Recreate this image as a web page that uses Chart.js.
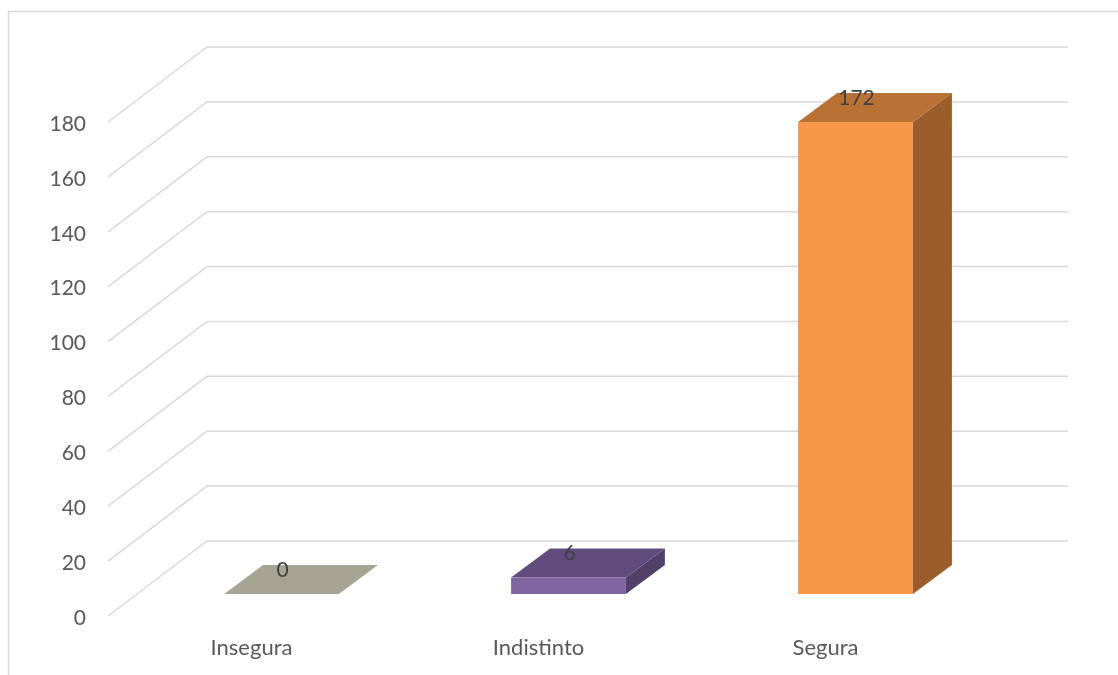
<!DOCTYPE html>
<html>
<head>
<meta charset="utf-8">
<script src="https://cdn.jsdelivr.net/npm/chart.js@4.4.0/dist/chart.umd.min.js"></script>
<style>
  html, body { margin: 0; padding: 0; background: #fff; }
  #wrap { width: 1118px; height: 675px; position: relative; }
</style>
</head>
<body>
<div id="wrap"><canvas id="chart"></canvas></div>
<script>
// Chart data
const categories = ['Insegura', 'Indistinto', 'Segura'];
const values = [0, 6, 172];
const yTicks = [0, 20, 40, 60, 80, 100, 120, 140, 160, 180];

// Face colours per bar (front / top / side)
const frontColors = ['#a5a593', '#8064a2', '#f79646'];
const topColors = ['#a6a594', '#624c7e', '#b97234'];
const sideColors = ['#8c8b7c', '#534069', '#9b5d2b'];

// 3D projection offsets
const WALL_DX = 99, WALL_DY = -75;   // front plane -> back wall
const FRONT_DX = 30, FRONT_DY = -22; // front plane -> bar front face
const BAR_DX = 39, BAR_DY = -29;     // bar depth

const gridColor = '#d9d9d9';
const textColor = '#595959';
const fontFamily = 'Lato, "Open Sans", sans-serif';

function quad(ctx, pts, color) {
    ctx.beginPath();
    ctx.moveTo(pts[0][0], pts[0][1]);
    for (let i = 1; i < pts.length; i++) ctx.lineTo(pts[i][0], pts[i][1]);
    ctx.closePath();
    ctx.fillStyle = color;
    ctx.fill();
}

const threeD = {
    id: 'threeD',
    beforeDraw(chart) {
        const ctx = chart.ctx;
        ctx.save();
        ctx.strokeStyle = gridColor;
        ctx.lineWidth = 1.5;
        ctx.strokeRect(8.5, 11.5, 1300, 900);
        ctx.restore();
    },
    beforeDatasetsDraw(chart) {
        const { ctx, chartArea: a, scales: { y } } = chart;
        ctx.save();
        ctx.strokeStyle = gridColor;
        ctx.lineWidth = 1.5;
        yTicks.forEach(v => {
            const py = y.getPixelForValue(v);
            ctx.beginPath();
            ctx.moveTo(a.left, py);
            ctx.lineTo(a.left + WALL_DX, py + WALL_DY);
            ctx.lineTo(a.right + WALL_DX, py + WALL_DY);
            ctx.stroke();
        });
        ctx.restore();
    },
    afterDatasetsDraw(chart) {
        const ctx = chart.ctx;
        const meta = chart.getDatasetMeta(0);
        ctx.save();
        meta.data.forEach((bar, i) => {
            const w = bar.width;
            const x0 = bar.x - w / 2 + FRONT_DX;
            const x1 = bar.x + w / 2 + FRONT_DX;
            const yb = bar.base + FRONT_DY;
            const yt = bar.y + FRONT_DY;
            // side face
            quad(ctx, [[x1, yt], [x1 + BAR_DX, yt + BAR_DY], [x1 + BAR_DX, yb + BAR_DY], [x1, yb]], sideColors[i]);
            // top face
            quad(ctx, [[x0, yt], [x1, yt], [x1 + BAR_DX, yt + BAR_DY], [x0 + BAR_DX, yt + BAR_DY]], topColors[i]);
            // front face
            if (yb - yt > 0) quad(ctx, [[x0, yt], [x1, yt], [x1, yb], [x0, yb]], frontColors[i]);
            // value label
            ctx.fillStyle = '#404040';
            ctx.font = '21px ' + fontFamily;
            ctx.textAlign = 'center';
            ctx.textBaseline = 'middle';
            ctx.fillText(String(values[i]), bar.x + FRONT_DX + 1, yt + BAR_DY + 5);
        });
        ctx.restore();
    }
};

const ctx = document.getElementById('chart').getContext('2d');
new Chart(ctx, {
    type: 'bar',
    data: {
        labels: categories,
        datasets: [{
            data: values,
            backgroundColor: 'rgba(0,0,0,0)',
            borderWidth: 0,
            categoryPercentage: 1,
            barPercentage: 0.4
        }]
    },
    options: {
        responsive: true,
        maintainAspectRatio: false,
        animation: false,
        layout: { padding: { top: 122, right: 149, left: 0, bottom: 0 } },
        plugins: {
            legend: { display: false },
            tooltip: { enabled: false }
        },
        scales: {
            x: {
                grid: { display: false, drawTicks: false },
                border: { display: false },
                ticks: {
                    color: textColor,
                    font: { family: fontFamily, size: 22 },
                    padding: 19
                },
                afterFit: s => { s.height = 59; }
            },
            y: {
                min: yTicks[0],
                max: yTicks[yTicks.length - 1],
                grid: { display: false, drawTicks: false },
                border: { display: false },
                ticks: {
                    stepSize: 20,
                    color: textColor,
                    font: { family: fontFamily, size: 21 },
                    padding: 22,
                    labelOffset: 2
                },
                afterFit: s => { s.width = 108; }
            }
        }
    },
    plugins: [threeD]
});
</script>
</body>
</html>
